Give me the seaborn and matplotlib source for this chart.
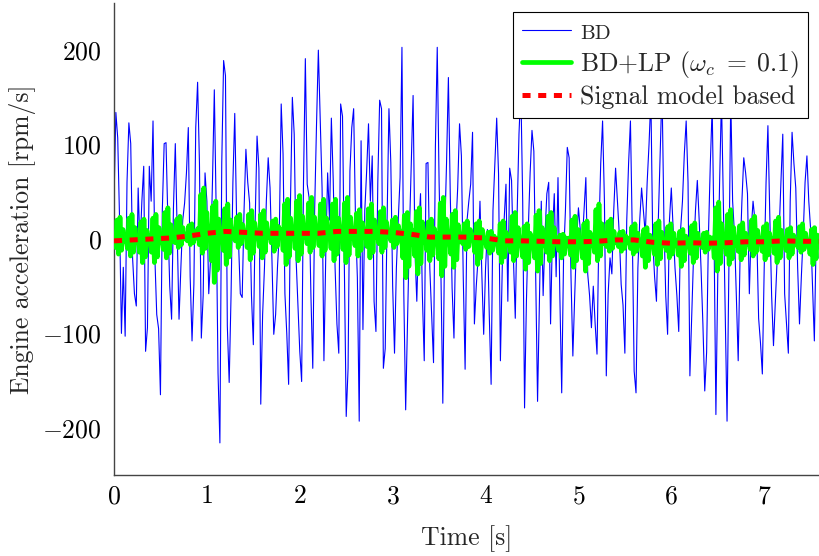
import numpy as np
import matplotlib
matplotlib.use("Agg")
import matplotlib.pyplot as plt
import seaborn as sns

# ---------------- data ----------------
bd_dt = 0.02  # sampling step of the BD series [s]
bd = [
    40, 134, 107, 20, -100, -30, -103, 60, 123, 101,
    -20, -58, -71, 54, -10, 40, 77, -119, -94, 77,
    40, 125, -20, -80, -95, -165, 30, 101, 102, 20,
    -50, -85, 33, 101, 10, -85, -30, 20, 38, 70,
    118, -40, -108, -48, 118, 166, 80, -105, -60, 70,
    40, -58, -20, 60, 158, 30, -142, -216, 80, 189,
    173, -92, -152, -60, 60, 133, 20, -2, -58, -62,
    30, 95, 60, 38, -60, -112, 20, 109, 75, -175,
    -80, -30, 40, 86, 54, -20, -101, -80, -30, 8,
    143, 90, -58, -100, -154, 40, 150, 111, -20, -69,
    -119, -151, 60, 191, 58,
    44, -60, -137, 30, 120, 200, 128, 54, -129, -16,
    70, 20, 128, 63, -30, -90, -121, 143, 130, -30,
    -188, -137, 72, 118, 138, 20, -41, -193, 104, -96,
    30, 72, 122, 40, 88, -66, -98, 60, 147, 138,
    -137, -116, 20, 138, 81, -50, -121, -31, 20, 65,
    203, -58, -181, -90, 5, 80, 152, -13, -66, 10,
    48, -60, -129, 80, 81, -31, -80, -131, 97, 203,
    60, -39, -174, 5, 80, 171, 48, -52, -105, 10,
    54, 122, 88, -40, -138, 19, 40, 58, 113, -90,
    -50, -20, 40, -37, -101, -31, 10, -80, -154, 30,
    80, 128,
    69, -129, -30, 20, 58, -66, 75, 62, -20, -84,
    26, 111, 160, 40, -179, -66, 10, 70, 115, 93,
    -40, -172, -66, 40, -60, 5, 48, 60, -90, 5,
    48, -40, 65, -60, -163, -20, 30, 97, 86, -40,
    -124, -60, -2, 33, 10, -6, 30, 65, -37, -60,
    -94, -50, -90, -122, 5, 80, 125, 40, -145, -58,
    -20, -37, 30, 75, 40, 5, -48, -70, -121, 19,
    80, 125, 5, -140, -163, -31, 20, 54, 30, 5,
    60, 100, 150, -2, -40, -66, 20, 90, 160, 22,
    -60, -101, 20, 54, 10, -31, -60, -98, 10, 40,
    90, 125,
    60, -145, -80, -16, 30, 62, 20, -31, -90, -161,
    -120, 5, 80, 140, 5, -186, -40, 60, 150, 40,
    -80, -193, -30, 150, 40, 5, -60, -129, -20, 40,
    86, 70, 48, -58, 10, 40, 20, 5, -84, -110,
    -143, -31, 60, 120, 26, -60, -113, -66, -20, 5,
    60, 111, -58, -90, -121, 40, 113, 80, 54, -30,
    -90, -40, 5, 60, 88, 40, 10, -48, -108, 5,
    -20,
]

lp_end = 7.59  # time span of the BD+LP series [s]
bd_lp = [
    2, -9, 20, -16, 23, -12, 10, -2,      3, -10, 22, -18, 26, -14, 12, -3,
    2, -14, 18, -25, 21, -19, 9, -4,      3, -14, 22, -25, 26, -19, 12, -4,
    3, -11, 28, -20, 33, -15, 15, -3,     4, -4, 21, -9, 24, -6, 12, 0,
    3, -2, 14, -6, 16, -4, 8, 1,          11, -6, 47, -15, 54, -10, 28, 3,
    9, -23, 35, -46, 40, -33, 21, -2,     9, -12, 32, -27, 37, -19, 20, 1,
    8, -2, 23, -9, 26, -5, 15, 4,         8, -9, 26, -22, 30, -15, 17, 2,
    8, -8, 26, -20, 30, -14, 17, 2,       8, -4, 19, -13, 21, -8, 13, 3,
    10, -12, 37, -27, 42, -19, 22, 1,     10, -10, 40, -23, 46, -16, 24, 2,
    10, -5, 38, -14, 44, -9, 23, 3,       10, -7, 37, -18, 42, -12, 22, 2,
    10, -10, 37, -23, 42, -16, 22, 2,     10, -11, 38, -25, 44, -17, 23, 1,
    9, -7, 27, -18, 31, -12, 17, 2,       9, -8, 32, -20, 37, -14, 20, 2,
    9, -5, 29, -14, 33, -9, 18, 3,        8, -2, 20, -9, 23, -5, 14, 4,
    8, -20, 25, -41, 28, -29, 16, -1,     9, -18, 29, -37, 33, -26, 18, 0,
    4, -12, 18, -23, 21, -17, 11, -2,     6, -21, 38, -39, 44, -29, 21, -4,
    5, -16, 26, -30, 30, -22, 15, -3,     4, -5, 16, -11, 19, -8, 10, 0,
    4, -14, 16, -27, 19, -20, 10, -2,     -1, -9, 7, -15, 8, -12, 3, -4,
    0, -15, 16, -25, 19, -19, 7, -5,      1, -14, 24, -23, 28, -18, 12, -5,
    0, -19, 13, -32, 16, -25, 6, -7,      1, -20, 25, -34, 30, -26, 12, -7,
    1, -14, 24, -23, 28, -18, 12, -5,     -1, -12, 4, -20, 5, -16, 1, -5,
    1, -17, 20, -30, 24, -23, 10, -6,     0, -20, 16, -34, 19, -26, 7, -7,
    2, -14, 31, -23, 37, -18, 16, -5,     0, -8, 18, -13, 21, -10, 8, -4,
    -1, -8, 7, -13, 8, -10, 3, -4,        0, -10, 13, -16, 16, -13, 6, -4,
    -2, -18, 10, -30, 12, -23, 4, -7,     -1, -16, 16, -27, 19, -21, 7, -7,
    -1, -12, 13, -20, 16, -16, 6, -6,     -2, -17, 8, -29, 10, -23, 3, -7,
    -1, -15, 14, -25, 17, -20, 6, -6,     -2, -9, 6, -14, 7, -11, 2, -5,
    1, -20, 33, -34, 39, -26, 16, -8,     0, -16, 26, -27, 31, -21, 12, -7,
    -1, -13, 14, -22, 17, -17, 6, -6,     0, -11, 20, -18, 24, -14, 9, -5,
    -1, -13, 13, -22, 16, -17, 6, -6,     0, -15, 19, -25, 23, -20, 9, -6,
    -2, -12, 10, -20, 12, -16, 4, -6,     -1, -9, 13, -14, 16, -11, 6, -5,
    -2, -16, 10, -27, 12, -21, 4, -7,
]

model_dt = 0.2
model = [
    -2, -1, 0, 1, 3, 6, 8, 7, 6, 6,
    6, 6, 8, 8, 8, 7, 5, 2, 2, 2,
    1, -2, -2, -2.5, -3, -3, -2.5, -1, -1, -3.5,
    -4.5, -4, -4.5, -4, -3, -3, -2, -2.5, -2.5,
]

series_labels = ["BD", r"BD+LP ($\omega_c\;=\;0.1$)", "Signal model based"]
x_ticks = [0, 1, 2, 3, 4, 5, 6, 7]
y_ticks = [-200, -100, 0, 100, 200]
x_label = "Time [s]"
y_label = "Engine acceleration [rpm/s]"

# ---------------- style ----------------
sns.set_theme(style="white")
plt.rcParams.update({
    "font.family": ["cmr10"],
    "mathtext.fontset": "cm",
    "axes.formatter.use_mathtext": True,
    "axes.unicode_minus": True,
    "lines.scale_dashes": False,
})
FS = 18.5

fig = plt.figure(figsize=(8.19, 5.56), dpi=100)
ax = fig.add_axes([0.1392, 0.1457, 0.8608, 0.849])

t_bd = np.arange(len(bd)) * bd_dt
t_lp = np.linspace(0, lp_end, len(bd_lp))
t_model = np.arange(len(model)) * model_dt

sns.lineplot(x=t_bd, y=bd, ax=ax, color="#0000ff", linewidth=0.8,
             label=series_labels[0], sort=False, estimator=None, zorder=2)
sns.lineplot(x=t_lp, y=bd_lp, ax=ax, color="#00ff00", linewidth=3.4,
             label=series_labels[1], sort=False, estimator=None, zorder=3,
             solid_joinstyle="round")
sns.lineplot(x=t_model, y=model, ax=ax, color="#ff0000", linewidth=3.6,
             linestyle=(0, (5.8, 5.5)), label=series_labels[2],
             sort=False, estimator=None, zorder=4)

ax.set_xlim(0, 7.59)
ax.set_ylim(-250, 250)
ax.set_xticks(x_ticks)
ax.set_yticks(y_ticks)

for s in ["top", "right"]:
    ax.spines[s].set_visible(False)
for s in ["left", "bottom"]:
    ax.spines[s].set_color("#444444")
    ax.spines[s].set_linewidth(1.0)

ax.tick_params(axis="both", direction="in", length=8, width=0.9,
               color="#a0a0a0", labelcolor="black", labelsize=FS)
ax.tick_params(axis="y", pad=9)
ax.tick_params(axis="x", pad=7)

ax.set_xlabel(x_label, fontsize=FS, labelpad=12)
ax.set_ylabel(y_label, fontsize=FS, labelpad=4)

leg = ax.legend(loc="upper right", bbox_to_anchor=(0.9844, 0.981),
                fontsize=FS, frameon=True, fancybox=False,
                edgecolor="black", framealpha=1, handlelength=1.9,
                handletextpad=0.35, labelspacing=0.22, borderpad=0.35,
                borderaxespad=0)
leg.get_frame().set_linewidth(0.8)
leg.get_texts()[0].set_fontsize(15)

fig.savefig("out.png", dpi=100)
